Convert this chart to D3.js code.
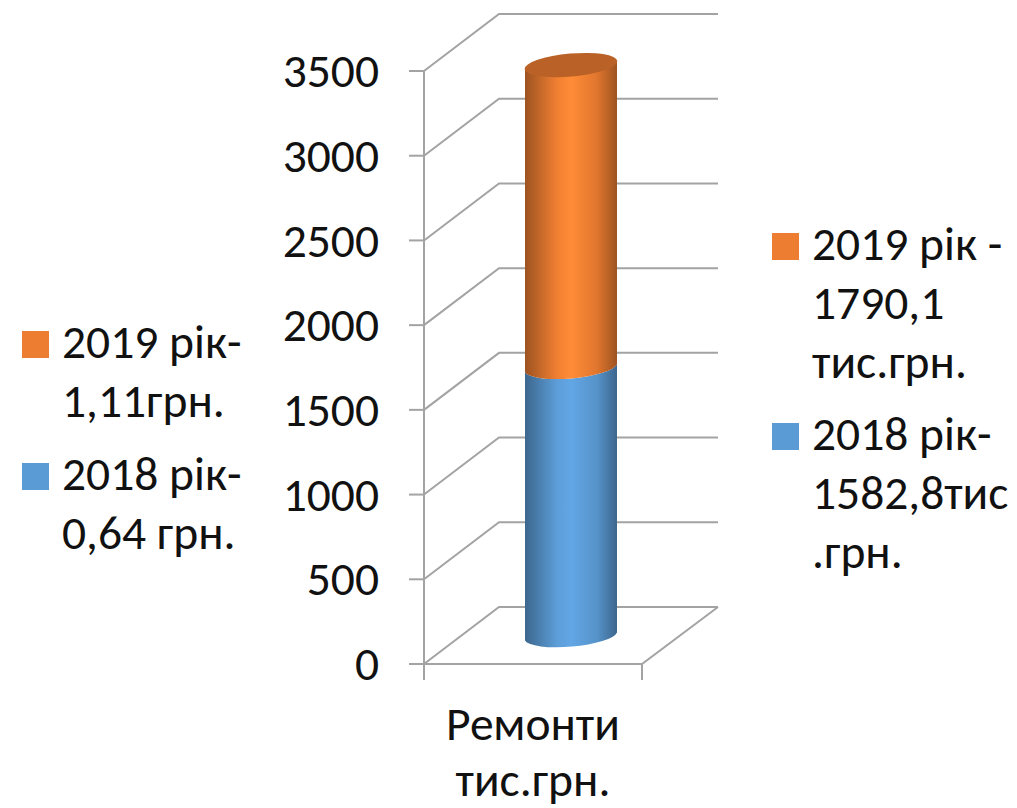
<!DOCTYPE html>
<html>
<head>
  <meta charset="utf-8">
  <title>Ремонти</title>
  <script src="https://d3js.org/d3.v7.min.js"></script>
  <style>
    html, body { margin: 0; background: #fff; }
    svg { display: block; }
    text { font-family: Carlito, "Open Sans", "Noto Sans", sans-serif; fill: #111; }
  </style>
</head>
<body>
  <svg width="1017" height="808"></svg>
  <script>
    const yTicks = [0, 500, 1000, 1500, 2000, 2500, 3000, 3500];
    const category = ["Ремонти", "тис.грн."];
    const seriesValues = [1582.8, 1790.1];
    const seriesColors = ["#5b9bd5", "#ed7d31"];
    const seriesShine = [0.2, 0.32];
    const legendRight = [
      { color: "#ed7d31", lines: ["2019 рік -", "1790,1", "тис.грн."], y: 246.5 },
      { color: "#5b9bd5", lines: ["2018 рік-", "1582,8тис", ".грн."], y: 436.5 }
    ];
    const legendLeft = [
      { color: "#ed7d31", lines: ["2019 рік-", "1,11грн."], y: 344.5 },
      { color: "#5b9bd5", lines: ["2018 рік-", "0,64 грн."], y: 476.5 }
    ];

    const svg = d3.select("svg");
    const y = d3.scaleLinear().domain([0, 3500]).range([664, 71]);
    const x0 = 424, x1 = 642, dx = 75, dy = -57; // 3d box

    const grid = svg.append("g").attr("fill", "none").attr("stroke", "#a3a3a3").attr("stroke-width", 2);
    yTicks.forEach(t => {
      grid.append("path").attr("d", `M${x0},${y(t)}L${x0 + dx},${y(t) + dy}L${x1 + dx + 1},${y(t) + dy}`);
      grid.append("line").attr("x1", 409).attr("x2", x0).attr("y1", y(t)).attr("y2", y(t));
    });
    grid.append("line").attr("x1", x0).attr("x2", x0).attr("y1", y(3500)).attr("y2", 680);
    grid.append("path").attr("d", `M${x0},${y(0)}L${x1},${y(0)}L${x1 + dx + 1},${y(0) + dy}`);
    grid.append("line").attr("x1", x1).attr("x2", x1).attr("y1", y(0)).attr("y2", 680);

    svg.append("g").selectAll("text").data(yTicks).enter().append("text")
      .attr("x", 379).attr("y", d => y(d)).attr("dy", "0.34em")
      .attr("text-anchor", "end").attr("font-size", 47.5).text(d => d);

    // cylinder, slightly tilted ellipses
    const cx = 571, rx = 46.5, ry = 11.5, tilt = -5, slope = -4, baseY = 636.5;
    const defs = svg.append("defs");
    seriesColors.forEach((c, i) => {
      const g = defs.append("linearGradient").attr("id", "cyl" + i);
      const col = d3.color(c);
      g.append("stop").attr("offset", "0%").attr("stop-color", col.darker(1.15));
      g.append("stop").attr("offset", "35%").attr("stop-color", col.brighter(0.05));
      g.append("stop").attr("offset", "50%").attr("stop-color", col.brighter(seriesShine[i]));
      g.append("stop").attr("offset", "78%").attr("stop-color", col.darker(0.15));
      g.append("stop").attr("offset", "100%").attr("stop-color", col.darker(1.15));
    });
    const h = d3.scaleLinear().domain([0, 3500]).range([0, 593]);
    let acc = 0;
    seriesValues.forEach((v, i) => {
      const bot = baseY - h(acc), top = baseY - h(acc + v);
      acc += v;
      const l = cx - rx + 0.5, r = cx + rx - 0.5;
      svg.append("path")
        .attr("d", `M${l},${top - slope}L${l},${bot - slope}A${rx},${ry} ${tilt} 0 0 ${r},${bot + slope}L${r},${top + slope}A${rx},${ry} ${tilt} 0 1 ${l},${top - slope}Z`)
        .attr("fill", `url(#cyl${i})`);
    });
    svg.append("ellipse").attr("rx", rx).attr("ry", ry)
      .attr("transform", `translate(${cx},${baseY - h(acc)}) rotate(${tilt})`)
      .attr("fill", d3.color(seriesColors[1]).darker(0.7));

    svg.append("g").selectAll("text").data(category).enter().append("text")
      .attr("x", 533).attr("y", (d, i) => 740 + i * 56)
      .attr("text-anchor", "middle").attr("font-size", 47.5).text(d => d);

    function drawLegend(items, x) {
      items.forEach(it => {
        svg.append("rect").attr("x", x + 1).attr("y", it.y - 13.5).attr("width", 27).attr("height", 27).attr("fill", it.color);
        it.lines.forEach((l, i) => {
          svg.append("text").attr("x", x + 41).attr("y", it.y + 13.5 + i * 59)
            .attr("font-size", 47.5).text(l);
        });
      });
    }
    drawLegend(legendRight, 771);
    drawLegend(legendLeft, 21);
  </script>
</body>
</html>
